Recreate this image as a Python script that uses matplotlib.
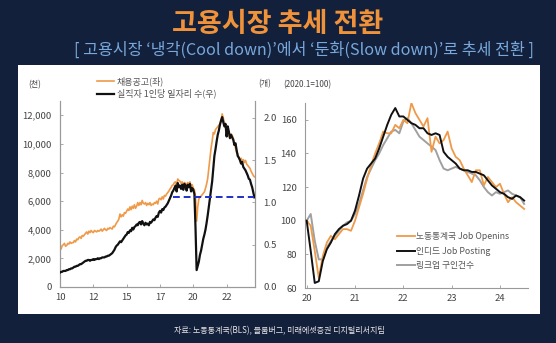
import numpy as np
import matplotlib
matplotlib.use("Agg")
import matplotlib.pyplot as plt
from matplotlib.patches import Rectangle
from matplotlib.lines import Line2D

plt.rcParams['font.family'] = ['Noto Sans CJK KR', 'DejaVu Sans']

# ---------------- data ----------------
# Left chart: monthly, Jan 2010 .. Aug 2024
openings = [  # 채용공고 (thousand)
    2700, 2650, 2900, 2950, 3050, 2850, 2900, 3050, 3000, 3150, 3050, 3100,
    3100, 3250, 3150, 3350, 3300, 3450, 3500, 3400, 3600, 3550, 3650, 3750,
    3850, 3700, 3900, 3800, 3950, 3850, 3800, 3950, 3900, 3850, 3950, 3900,
    3950, 4050, 3900, 4000, 4100, 4000, 3950, 4100, 4050, 4150, 4100, 4050,
    4250, 4200, 4350, 4500, 4600, 4750, 5100, 4900, 5050, 4950, 5200, 5150,
    5300, 5450, 5350, 5600, 5400, 5650, 5500, 5750, 5500, 5650, 5900, 5700,
    5900, 5750, 6050, 5850, 5800, 5900, 5700, 5850, 5750, 5900, 5700, 5800,
    5750, 5900, 5850, 6000, 5800, 6150, 6200, 6100, 6300, 6150, 6400, 6350,
    6500, 6600, 6700, 6850, 6950, 7100, 7150, 7300, 7350, 7150, 7550, 7450,
    7400, 7250, 7350, 7100, 7300, 7250, 7050, 7300, 7200, 7350, 7000, 7150,
    6900, 6800, 6300, 4600, 5600, 6150, 6300, 6350, 6450, 6550, 6650, 6900,
    7200, 7600, 8300, 9000, 9700, 10200, 10800, 10700, 11000, 11100, 11200, 11300,
    11400, 11600, 12100, 11800, 11500, 11200, 11000, 10700, 10600, 10500, 10700, 10600,
    10400, 10100, 9700, 9400, 9300, 9000, 8900, 9000, 8800, 8900, 8700, 8850,
    8600, 8500, 8400, 8300, 8100, 7950, 7800, 7700,
]
jobs_per_unemployed = [  # 실직자 1인당 일자리 수
    0.17, 0.18, 0.18, 0.19, 0.19, 0.19, 0.20, 0.20, 0.21, 0.21, 0.22, 0.22,
    0.23, 0.24, 0.24, 0.25, 0.25, 0.26, 0.27, 0.27, 0.28, 0.29, 0.30, 0.31,
    0.31, 0.32, 0.32, 0.31, 0.32, 0.32, 0.33, 0.32, 0.33, 0.33, 0.34, 0.33,
    0.34, 0.34, 0.35, 0.35, 0.35, 0.36, 0.36, 0.37, 0.37, 0.38, 0.39, 0.40,
    0.42, 0.44, 0.47, 0.49, 0.50, 0.52, 0.54, 0.53, 0.55, 0.57, 0.59, 0.61,
    0.62, 0.65, 0.64, 0.67, 0.66, 0.70, 0.68, 0.71, 0.72, 0.74, 0.73, 0.76,
    0.77, 0.74, 0.78, 0.75, 0.73, 0.76, 0.74, 0.75, 0.73, 0.77, 0.76, 0.78,
    0.80, 0.79, 0.82, 0.84, 0.83, 0.88, 0.90, 0.88, 0.92, 0.91, 0.94, 0.95,
    0.97, 0.99, 1.02, 1.05, 1.08, 1.12, 1.14, 1.17, 1.20, 1.13, 1.23, 1.18,
    1.20, 1.16, 1.21, 1.15, 1.22, 1.20, 1.14, 1.21, 1.18, 1.22, 1.13, 1.17,
    1.15, 1.10, 0.70, 0.20, 0.25, 0.30, 0.38, 0.43, 0.50, 0.57, 0.62, 0.68,
    0.76, 0.85, 0.95, 1.05, 1.15, 1.25, 1.40, 1.55, 1.63, 1.72, 1.80, 1.85,
    1.92, 1.97, 2.01, 1.95, 1.90, 1.93, 1.78, 1.90, 1.84, 1.76, 1.80, 1.77,
    1.74, 1.68, 1.70, 1.62, 1.55, 1.53, 1.50, 1.46, 1.48, 1.42, 1.40, 1.38,
    1.35, 1.32, 1.28, 1.27, 1.22, 1.18, 1.12, 1.06,
]
ref_level = 1.06           # blue dashed reference level (right axis)
ref_start = 2018.5

# Right chart: monthly, Jan 2020 .. Jul 2024 (2020.1 = 100)
bls_index = [
    100, 97, 82, 66, 79, 87, 91, 89, 92, 95, 95, 94,
    100, 108, 116, 125, 133, 140, 146, 153, 152, 152, 157, 155,
    160, 158, 170, 164, 160, 156, 161, 141, 150, 146, 148, 153,
    143, 138, 136, 131, 127, 123, 130, 130, 121, 126, 123, 120,
    122, 116, 111, 114, 111, 109, 107,
]
indeed_index = [
    100, 82, 63, 64, 76, 83, 87, 92, 95, 97, 98, 100,
    106, 115, 125, 131, 134, 137, 143, 150, 157, 163, 167, 162,
    162, 160, 158, 157, 155, 155, 152, 151, 152, 151, 141, 138,
    136, 134, 131, 130, 130, 129, 129, 128, 127, 124, 121, 119,
    117, 116, 114, 113, 115, 114, 112,
]
linkup_index = [
    100, 104, 88, 77, 77, 84, 88, 91, 94, 97, 99, 100,
    104, 110, 118, 126, 131, 136, 140, 145, 149, 153, 154, 152,
    159, 161, 158, 154, 150, 148, 146, 144, 142, 136, 131, 130,
    131, 132, 131, 130, 129, 128, 127, 124, 120, 117, 115, 117,
    116, 117, 118, 116, 115, 114, 110,
]

left_xticks = [2010, 2012.5, 2015, 2017.5, 2020, 2022.5]
left_xlabels = ['10', '12', '15', '17', '20', '22']
left_yticks = [0, 2000, 4000, 6000, 8000, 10000, 12000]
right_yticks = [0.0, 0.5, 1.0, 1.5, 2.0]
r_xticks = [2020, 2021, 2022, 2023, 2024]
r_xlabels = ['20', '21', '22', '23', '24']
r_yticks = [60, 80, 100, 120, 140, 160]

# ---------------- figure ----------------
W, H = 556, 343
fig = plt.figure(figsize=(W / 100, H / 100), dpi=100)
fig.patch.set_facecolor('#13203b')

def fx(px):
    return px / W

def fy(py):
    return 1 - py / H

# white panel
fig.patches.append(Rectangle((fx(18), fy(314)), fx(540) - fx(18), fy(65) - fy(314),
                             transform=fig.transFigure, facecolor='white',
                             edgecolor='none', zorder=-10))

ORANGE = '#ef9a48'
GREY_TXT = '#444444'
SPINE = '#9a9a9a'

fig.text(fx(278), fy(24), '고용시장 추세 전환', ha='center', va='center',
         fontsize=19.5, fontweight='bold', color='#f0923a')
fig.text(fx(304), fy(50), "[ 고용시장 ‘냉각(Cool down)’에서 ‘둔화(Slow down)’로 추세 전환 ]",
         ha='center', va='center', fontsize=11.6, color='#78a8dc')
fig.text(fx(279), fy(331), '자료: 노동통계국(BLS), 블룸버그, 미래에셋증권 디지털리서치팀',
         ha='center', va='center', fontsize=5.8, color='#e8e8e8')

# ---------- left chart ----------
axL = fig.add_axes([fx(60), fy(287), fx(255) - fx(60), fy(101) - fy(287)])
axL.patch.set_alpha(0)
xL = 2010 + np.arange(len(openings)) / 12
axL.plot(xL, openings, color=ORANGE, lw=1.2, zorder=3)
axL.set_xlim(2010, 2024.63)
axL.set_ylim(0, 13000)
axL.set_xticks(left_xticks)
axL.set_xticklabels(left_xlabels)
axL.set_yticks(left_yticks)
axL.set_yticklabels([f'{v:,}' for v in left_yticks])

axR = axL.twinx()
axR.patch.set_alpha(0)
xB = 2010 + np.arange(len(jobs_per_unemployed)) / 12
axR.plot(xB, jobs_per_unemployed, color='#111111', lw=1.6, zorder=4)
axR.plot([ref_start, xB[-1]], [ref_level, ref_level], color='#1f2fc8', lw=1.4,
         ls=(0, (3.5, 2)), zorder=5)
axR.set_ylim(0, 2.2)
axR.set_yticks(right_yticks)
axR.set_yticklabels([f'{v:.1f}' for v in right_yticks])
axR.set_xlim(2010, 2024.63)

for a in (axL, axR):
    a.spines['top'].set_visible(False)
    for s in ('left', 'right', 'bottom'):
        a.spines[s].set_color(SPINE)
        a.spines[s].set_linewidth(0.8)
    a.tick_params(direction='in', length=2.5, width=0.6, color=SPINE,
                  labelsize=6.8, labelcolor=GREY_TXT, pad=6)
axL.tick_params(axis='x', pad=4)

fig.text(fx(35), fy(85), '(천)', ha='center', va='center', fontsize=5.8, color=GREY_TXT)
fig.text(fx(265), fy(84), '(개)', ha='center', va='center', fontsize=5.8, color=GREY_TXT)

leg_handles = [Line2D([], [], color=ORANGE, lw=1.2), Line2D([], [], color='#111111', lw=1.6)]
fig.legend(leg_handles, ['채용공고(좌)', '실직자 1인당 일자리 수(우)'],
           loc='upper left', bbox_to_anchor=(fx(97), fy(76)), bbox_transform=fig.transFigure,
           frameon=False, fontsize=6.5, handlelength=1.9, handletextpad=0.3,
           labelspacing=0.35, borderpad=0, borderaxespad=0, labelcolor='#555555')

# ---------- right chart ----------
ax2 = fig.add_axes([fx(305), fy(288), fx(528) - fx(305), fy(103) - fy(288)])
ax2.patch.set_alpha(0)
xr = 2020 + np.arange(len(bls_index)) / 12
ax2.plot(xr, linkup_index, color='#a0a0a0', lw=1.4, label='링크업 구인건수', zorder=2)
ax2.plot(xr, bls_index, color=ORANGE, lw=1.3, label='노동통계국 Job Openins', zorder=3)
ax2.plot(xr, indeed_index, color='#111111', lw=1.4, label='인디드 Job Posting', zorder=4)
ax2.set_xlim(2019.965, 2024.58)
ax2.set_ylim(60, 170)
ax2.set_xticks(r_xticks)
ax2.set_xticklabels(r_xlabels)
ax2.set_yticks(r_yticks)
for s in ('top', 'right'):
    ax2.spines[s].set_visible(False)
for s in ('left', 'bottom'):
    ax2.spines[s].set_color(SPINE)
    ax2.spines[s].set_linewidth(0.8)
ax2.tick_params(direction='in', length=2.5, width=0.6, color=SPINE,
                labelsize=6.8, labelcolor=GREY_TXT, pad=6)
ax2.tick_params(axis='x', pad=4)

h, l = ax2.get_legend_handles_labels()
order = [1, 2, 0]
ax2.legend([h[i] for i in order], [l[i] for i in order], loc='upper left',
           bbox_to_anchor=(fx(397), fy(232)), bbox_transform=fig.transFigure,
           frameon=False, fontsize=6.3, handlelength=2.0, handletextpad=0.15,
           labelspacing=0.65, borderpad=0, borderaxespad=0, labelcolor='#555555')

fig.text(fx(283), fy(85), '(2020.1=100)', ha='left', va='center', fontsize=5.8, color=GREY_TXT)

fig.savefig('out.png', dpi=100, facecolor=fig.get_facecolor())
